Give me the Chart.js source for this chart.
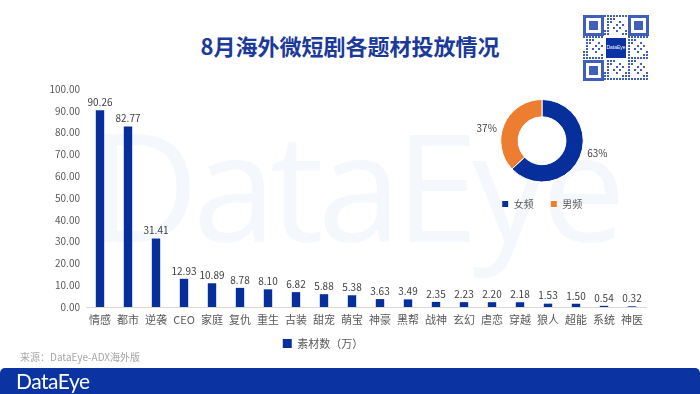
<!DOCTYPE html>
<html>
<head>
<meta charset="utf-8">
<script src="https://cdn.jsdelivr.net/npm/chart.js@4.4.1/dist/chart.umd.min.js"></script>
<style>
  body { margin: 0; width: 700px; height: 394px; background: #fff; position: relative; overflow: hidden;
         font-family: "Noto Sans CJK SC", "Noto Sans", sans-serif; }
  #watermark { position: absolute; left: 90px; top: 109px; font-family: "Open Sans", sans-serif; font-size: 150px;
               letter-spacing: -6px; color: #f4f7fc; line-height: 1; white-space: nowrap; }
  #title { position: absolute; left: 0; width: 700px; top: 29px; text-align: center; font-size: 22px;
           font-weight: bold; color: #1b3a9a; }
  #qr { position: absolute; left: 583px; top: 15px; }
  #barCanvas { position: absolute; left: 0; top: 60px; }
  #pieCanvas { position: absolute; left: 472px; top: 94px; }
  #source { position: absolute; left: 20px; top: 349px; font-size: 10px; color: #a6a6a6; }
  #footer { position: absolute; left: 0; width: 700px; top: 368px; height: 26px; background: #0b34a2;
            border-radius: 5px 5px 0 0; }
  #footer span { position: absolute; left: 16px; top: 0px; color: #fff; font-family: "Lato", sans-serif;
                 font-size: 21px; letter-spacing: -0.5px; line-height: 26px; }
</style>
</head>
<body>
<div id="watermark">DataEye</div>
<div id="title">8月海外微短剧各题材投放情况</div>
<canvas id="qr" width="66" height="66"></canvas>
<canvas id="barCanvas" width="700" height="305"></canvas>
<canvas id="pieCanvas" width="140" height="125"></canvas>
<div id="source">来源：DataEye-ADX海外版</div>
<div id="footer"><span>DataEye</span></div>
<script>
const categories = ["情感", "都市", "逆袭", "CEO", "家庭", "复仇", "重生", "古装", "甜宠", "萌宝",
                    "神豪", "黑帮", "战神", "玄幻", "虐恋", "穿越", "狼人", "超能", "系统", "神医"];
const materialCounts = [90.26, 82.77, 31.41, 12.93, 10.89, 8.78, 8.10, 6.82, 5.88, 5.38,
                        3.63, 3.49, 2.35, 2.23, 2.20, 2.18, 1.53, 1.50, 0.54, 0.32];
const seriesName = "素材数（万）";
const genderLabels = ["女频", "男频"];
const genderShares = [63, 37];

const blue = "#072f9c";
const orange = "#ed7d31";
const textColor = "#595959";

// value labels above bars
const barValuePlugin = {
    id: "barValues",
    afterDatasetsDraw(chart) {
        const ctx = chart.ctx;
        const meta = chart.getDatasetMeta(0);
        ctx.save();
        ctx.font = "10px 'Noto Sans CJK SC'";
        ctx.fillStyle = "#404040";
        ctx.textAlign = "center";
        ctx.textBaseline = "bottom";
        meta.data.forEach((bar, i) => {
            ctx.fillText(materialCounts[i].toFixed(2), bar.x, bar.y - 3);
        });
        ctx.restore();
    }
};

// percentage labels outside doughnut
const pieLabelPlugin = {
    id: "pieLabels",
    afterDatasetsDraw(chart) {
        const ctx = chart.ctx;
        const meta = chart.getDatasetMeta(0);
        ctx.save();
        ctx.font = "10px 'Noto Sans CJK SC'";
        ctx.fillStyle = "#404040";
        ctx.textAlign = "center";
        ctx.textBaseline = "middle";
        meta.data.forEach((arc, i) => {
            const mid = (arc.startAngle + arc.endAngle) / 2;
            const x = arc.x + Math.cos(mid) * (arc.outerRadius + 19);
            const y = arc.y + Math.sin(mid) * (arc.outerRadius - 10);
            ctx.fillText(genderShares[i] + "%", x, y);
        });
        ctx.restore();
    }
};

new Chart(document.getElementById("barCanvas"), {
    type: "bar",
    data: {
        labels: categories,
        datasets: [{
            label: seriesName,
            data: materialCounts,
            backgroundColor: blue,
            barPercentage: 0.3,
            categoryPercentage: 1
        }]
    },
    options: {
        responsive: false,
        animation: false,
        layout: { padding: { left: 0, right: 54, top: 29, bottom: 6 } },
        plugins: {
            legend: {
                position: "bottom",
                labels: { boxWidth: 9, boxHeight: 9, padding: 9, color: textColor,
                          font: { size: 11, family: "Noto Sans CJK SC" } }
            },
            tooltip: { enabled: false }
        },
        scales: {
            y: {
                min: 0, max: 100,
                grid: { display: false, drawTicks: false },
                border: { display: false },
                ticks: { stepSize: 10, padding: 6, color: textColor,
                         font: { size: 10, family: "Noto Sans CJK SC" },
                         callback: v => v.toFixed(2) },
                afterFit: scale => { scale.width = 86; }
            },
            x: {
                grid: { display: false, drawTicks: false },
                border: { color: "#d9d9d9" },
                ticks: { color: textColor, autoSkip: false, maxRotation: 0, padding: 6,
                         font: { size: 11, family: "Noto Sans CJK SC" } },
                afterFit: scale => { scale.height = 22; }
            }
        }
    },
    plugins: [barValuePlugin]
});

new Chart(document.getElementById("pieCanvas"), {
    type: "doughnut",
    data: {
        labels: genderLabels,
        datasets: [{
            data: genderShares,
            backgroundColor: [blue, orange],
            borderColor: "#ffffff",
            borderWidth: 1
        }]
    },
    options: {
        responsive: false,
        animation: false,
        cutout: "58%",
        layout: { padding: { top: 5 } },
        plugins: {
            legend: {
                position: "bottom",
                labels: { boxWidth: 7, boxHeight: 7, padding: 16.5, color: textColor,
                          font: { size: 10, family: "Noto Sans CJK SC" } }
            },
            tooltip: { enabled: false }
        }
    },
    plugins: [pieLabelPlugin]
});

// decorative QR-style badge
(function drawBadge() {
    const c = document.getElementById("qr").getContext("2d");
    const cell = 3, n = 22;
    const ink = "#3f5fb8";
    c.fillStyle = "#fff";
    c.fillRect(0, 0, 66, 66);
    c.fillStyle = ink;
    for (let i = 0; i < n; i++) {
        for (let j = 0; j < n; j++) {
            if (((i * 7 + j * 13 + i * j) % 7) < 3) c.fillRect(i * cell, j * cell, cell - 1, cell - 1);
        }
    }
    [[0, 0], [15, 0], [0, 15]].forEach(([fx, fy]) => {
        c.fillStyle = "#fff";
        c.fillRect(fx * cell, fy * cell, 7 * cell, 7 * cell);
        c.fillStyle = ink;
        c.fillRect(fx * cell, fy * cell, 7 * cell, 7 * cell);
        c.fillStyle = "#fff";
        c.fillRect(fx * cell + cell, fy * cell + cell, 5 * cell, 5 * cell);
        c.fillStyle = ink;
        c.fillRect(fx * cell + 2 * cell, fy * cell + 2 * cell, 3 * cell, 3 * cell);
    });
    c.fillStyle = "#fff";
    c.fillRect(21, 21, 24, 24);
    c.fillStyle = "#0b34a2";
    c.fillRect(23, 23, 20, 20);
    c.fillStyle = "#fff";
    c.font = "5px 'Liberation Sans'";
    c.textAlign = "center";
    c.textBaseline = "middle";
    c.fillText("DataEye", 33, 33);
})();
</script>
</body>
</html>
